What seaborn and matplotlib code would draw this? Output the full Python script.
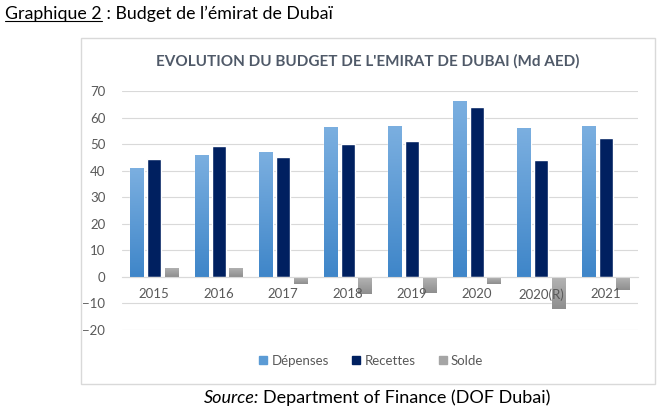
import matplotlib
matplotlib.use("Agg")
import matplotlib.pyplot as plt
from matplotlib.patches import Rectangle
from matplotlib.lines import Line2D
from matplotlib.colors import LinearSegmentedColormap
import seaborn as sns
import pandas as pd
import numpy as np

# data (Md AED)
years = ["2015", "2016", "2017", "2018", "2019", "2020", "2020(R)", "2021"]
depenses = [41, 46, 47, 56.5, 57, 66.3, 56.2, 57]
recettes = [44.5, 49.3, 45, 50, 51, 64, 44, 52.3]
solde = [3.5, 3.5, -2.5, -6.3, -6, -2.5, -12, -4.8]

series = ["Dépenses", "Recettes", "Solde"]
colors = ["#5B9BD5", "#002060", "#A5A5A5"]
# light top -> darker bottom, like the Excel gradient fill
gradients = {"#5B9BD5": ("#7BAFE0", "#3F86C9"), "#A5A5A5": ("#B4B4B4", "#8E8E8E")}

df = pd.DataFrame({
    "annee": years * 3,
    "serie": [s for s in series for _ in years],
    "valeur": depenses + recettes + solde,
})

sns.set_theme(style="white")
plt.rcParams["font.family"] = ["Lato", "DejaVu Sans"]

W, H = 669, 415
fig = plt.figure(figsize=(W / 100, H / 100), dpi=100)

# chart frame
fig.patches.append(Rectangle((81 / W, 1 - 384 / H), (655 - 81) / W, (384 - 38) / H,
                             transform=fig.transFigure, fill=False,
                             edgecolor="#D9D9D9", linewidth=1))

ax = fig.add_axes([122 / W, 1 - 330 / H, (638 - 122) / W, (330 - 91) / H])
sns.barplot(data=df, x="annee", y="valeur", hue="serie", palette=colors,
            width=0.8, gap=0.2, ax=ax, legend=False, saturation=1)

ax.set_ylim(-20, 70)
ax.set_yticks(range(-20, 71, 10))
ax.set_xlim(-0.5, len(years) - 0.5)

# gradient fill over the light blue and grey bars
grad = np.linspace(1, 0, 64).reshape(-1, 1)
for bar in list(ax.patches):
    key = matplotlib.colors.to_hex(bar.get_facecolor()).upper()
    if key not in gradients:
        continue
    top, bottom = gradients[key]
    cmap = LinearSegmentedColormap.from_list("g", [bottom, top])
    x0, y0 = bar.get_x(), bar.get_y()
    w, h = bar.get_width(), bar.get_height()
    ylo, yhi = min(y0, y0 + h), max(y0, y0 + h)
    im = ax.imshow(grad, cmap=cmap, aspect="auto", extent=(x0, x0 + w, ylo, yhi),
                   zorder=bar.get_zorder() + 0.01, interpolation="bilinear")
    im.set_clip_path(bar)
ax.set_xlim(-0.5, len(years) - 0.5)
ax.set_ylim(-20, 70)

ax.set_xlabel("")
ax.set_ylabel("")
ax.grid(axis="y", color="#D9D9D9", linewidth=0.8)
ax.set_axisbelow(True)
for side in ["top", "right", "left"]:
    ax.spines[side].set_visible(False)
ax.spines["bottom"].set_position(("data", 0))
ax.spines["bottom"].set_color("#D9D9D9")
ax.spines["bottom"].set_linewidth(0.8)
ax.tick_params(axis="x", length=0, pad=8, labelsize=9.5, labelcolor="#595959")
ax.tick_params(axis="y", length=0, pad=12, labelsize=9.5, labelcolor="#595959")
ax.xaxis.set_zorder(3)

# chart title
fig.text(368 / W, 1 - 61 / H, "EVOLUTION DU BUDGET DE L'EMIRAT DE DUBAI (Md AED)",
         ha="center", va="center", fontsize=11, fontweight="bold", color="#4F5968")

# legend
handles = [Line2D([], [], marker="s", linestyle="none", markersize=6,
                  markerfacecolor=c, markeredgecolor=c) for c in colors]
fig.legend(handles, series, loc="center", bbox_to_anchor=(370 / W, 1 - 361 / H),
           ncol=3, frameon=False, fontsize=9.5, labelcolor="#595959",
           handletextpad=0.1, columnspacing=1.6, handlelength=1)

# caption above and source below
t1 = fig.text(5 / W, 1 - 14 / H, "Graphique 2", ha="left", va="center",
              fontsize=12.8, color="black")
fig.canvas.draw()
r = fig.canvas.get_renderer()
bb = t1.get_window_extent(r)
fig.text(bb.x1 / W, 1 - 14 / H, " : Budget de l’émirat de Dubaï", ha="left",
         va="center", fontsize=12.8, color="black")
fig.lines.append(Line2D([bb.x0 / W, bb.x1 / W], [(bb.y0 + 1) / H, (bb.y0 + 1) / H],
                        transform=fig.transFigure, color="black", linewidth=0.8))

s1 = fig.text(0, 1 - 398 / H, "Source:", ha="left", va="center",
              fontsize=13, style="italic", color="black")
s2 = fig.text(0, 1 - 398 / H, "Department of Finance (DOF Dubai)", ha="left",
              va="center", fontsize=13, color="black")
fig.canvas.draw()
w1 = s1.get_window_extent(r).width
w2 = s2.get_window_extent(r).width
gap = 4
x0 = 377 - (w1 + gap + w2) / 2
s1.set_x(x0 / W)
s2.set_x((x0 + w1 + gap) / W)

fig.savefig("out.png", dpi=100)
